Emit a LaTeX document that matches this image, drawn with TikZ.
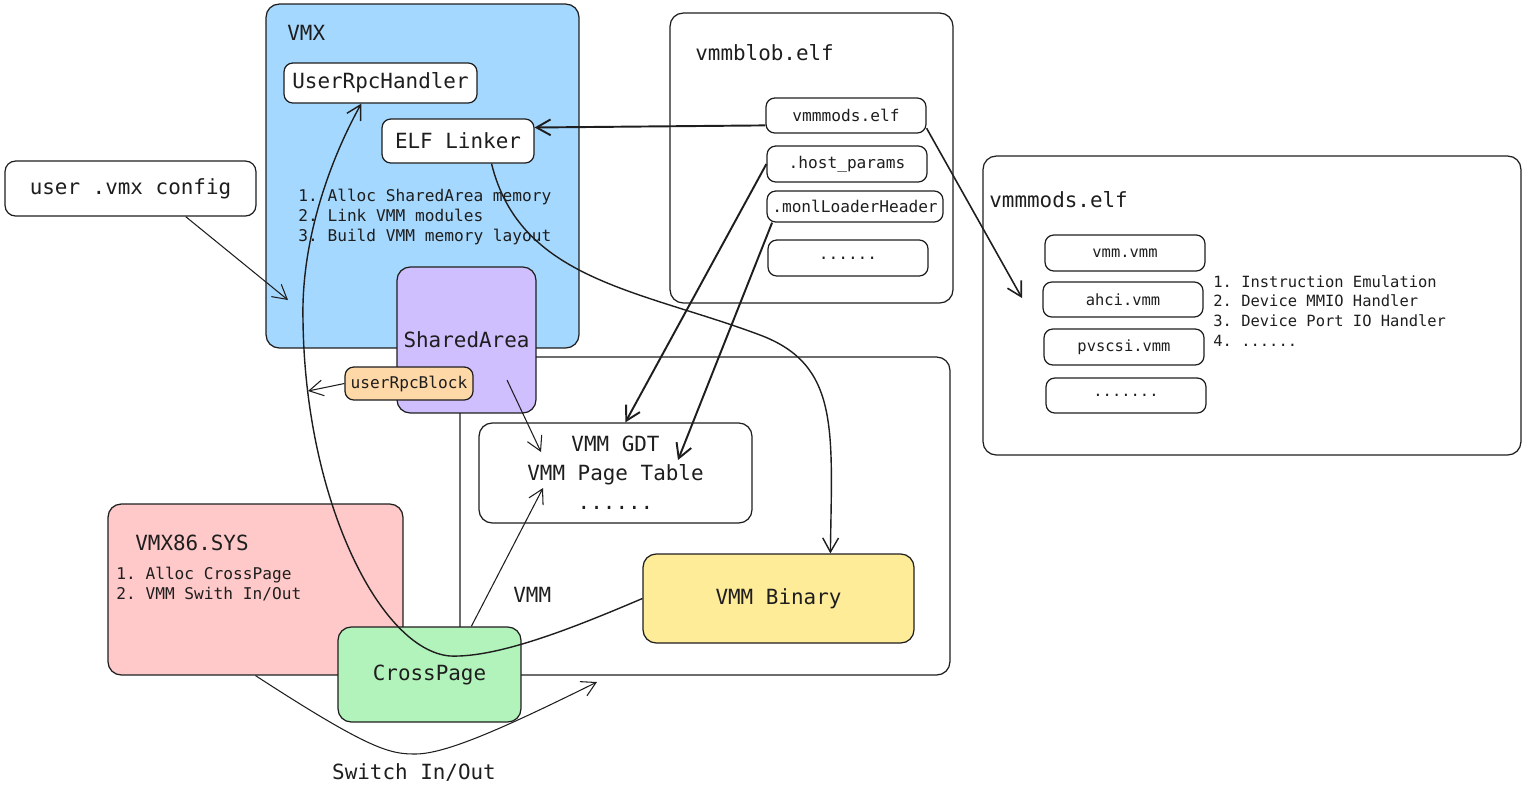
\documentclass[tikz,border=0pt]{standalone}
\usepackage{fontspec}
\usepackage{tikz}
\usetikzlibrary{arrows.meta}
\newfontfamily\sketchfont{DejaVu Sans Mono}
\definecolor{ink}{HTML}{1E1E1E}
\definecolor{vmxblue}{HTML}{A5D8FF}
\definecolor{sharedviolet}{HTML}{D0BFFF}
\definecolor{rpcorange}{HTML}{FFD8A8}
\definecolor{sysred}{HTML}{FFC9C9}
\definecolor{crossgreen}{HTML}{B2F2BB}
\definecolor{binyellow}{HTML}{FFEC99}
\tikzset{
    box/.style={draw=ink, line width=0.7pt, rounded corners=5pt, inner sep=0pt, text=ink},
    bigbox/.style={box, rounded corners=7.5pt},
    bigtext/.style={font=\sketchfont\frenchspacing\fontsize{11.9}{14}\selectfont, text=ink},
    smalltext/.style={font=\sketchfont\frenchspacing\fontsize{9.2}{11.3}\selectfont, text=ink},
    tinytext/.style={font=\sketchfont\frenchspacing\fontsize{8.8}{11.3}\selectfont, text=ink},
    title/.style={anchor=west, inner sep=0pt},
    arr/.style={draw=ink, line width=0.6pt, -{Straight Barb[length=8pt,width=9pt]}},
    thickarr/.style={arr, line width=1.1pt}
}
\begin{document}
\begin{tikzpicture}[x=0.02cm, y=-0.02cm]
  \useasboundingbox (0,0) rectangle (1528,789);
  % containers
  \node [bigbox, minimum width=9.8cm, minimum height=6.36cm] (vmm) at (705,516) {};
  \node [bigbox, fill=vmxblue, minimum width=6.26cm, minimum height=6.88cm] (vmx) at (422.5,176) {};
  \node [bigbox, fill=sysred, minimum width=5.9cm, minimum height=3.42cm] (vmx86) at (255.5,589.5) {};
  \node [bigbox, minimum width=5.66cm, minimum height=5.8cm] (blob) at (811.5,158) {};
  \node [bigbox, minimum width=10.76cm, minimum height=5.98cm] (mods) at (1252,305.5) {};
  \node [bigtext, title] (vmxtitle) at (287,33) {VMX};
  \node [bigtext, title] (blobtitle) at (695,53) {vmmblob.elf};
  \node [bigtext, title] (modstitle) at (989,200) {vmmmods.elf};
  \node [bigtext, title] (vmx86title) at (135,543) {VMX86.SYS};
  \node [bigtext, title] (vmmtitle) at (513,595) {VMM};

  % VMX
  \node [box, bigtext, fill=white, minimum width=3.86cm, minimum height=0.8cm] (handler) at (380.5,83) {UserRpcHandler};
  \node [box, bigtext, fill=white, minimum width=3.04cm, minimum height=0.88cm] (linker) at (458,141) {ELF Linker};
  \node [smalltext, align=left, title] (vmxsteps) at (298,217)
    {1. Alloc SharedArea memory\\2. Link VMM modules\\3. Build VMM memory layout};
  \node [bigbox, bigtext, fill=sharedviolet, minimum width=2.78cm, minimum height=2.92cm] (shared) at (466.5,340) {SharedArea};
  \node [box, smalltext, fill=rpcorange, minimum width=2.56cm, minimum height=0.66cm] (rpcblock) at (409,383.5) {userRpcBlock};
  \node [box, bigtext, fill=white, minimum width=5.02cm, minimum height=1.1cm, rounded corners=6pt] (config) at (130.5,188.5) {user .vmx config};

  % vmmblob.elf
  \node [box, smalltext, minimum width=3.2cm, minimum height=0.7cm] (modsfile) at (846,115.5) {vmmmods.elf};
  \node [box, smalltext, minimum width=3.2cm, minimum height=0.72cm] (hostparams) at (847,164) {.host\_params};
  \node [box, smalltext, minimum width=3.52cm, minimum height=0.62cm] (loaderhdr) at (855,206.5) {.monlLoaderHeader};
  \node [box, smalltext, minimum width=3.2cm, minimum height=0.72cm] (blobmore) at (848,258) {......};

  % vmmmods.elf
  \node [box, tinytext, minimum width=3.2cm, minimum height=0.72cm] (vmmvmm) at (1125,253) {vmm.vmm};
  \node [box, tinytext, minimum width=3.2cm, minimum height=0.7cm] (ahci) at (1123,299.5) {ahci.vmm};
  \node [box, tinytext, minimum width=3.2cm, minimum height=0.72cm] (pvscsi) at (1124,347) {pvscsi.vmm};
  \node [box, tinytext, minimum width=3.2cm, minimum height=0.7cm] (modsmore) at (1126,395.5) {.......};
  \node [tinytext, align=left, title] (modslist) at (1213,311)
    {1. Instruction Emulation\\2. Device MMIO Handler\\3. Device Port IO Handler\\4. ......};

  % VMM
  \node [bigbox, align=center, fill=white, minimum width=5.46cm, minimum height=2cm,
         font=\sketchfont\frenchspacing\fontsize{11.9}{16.4}\selectfont] (tables) at (615.5,473)
    {VMM GDT\\VMM Page Table\\......};
  \node [bigbox, bigtext, fill=binyellow, minimum width=5.42cm, minimum height=1.78cm] (binary) at (778.5,598.5) {VMM Binary};

  % VMX86.SYS
  \node [smalltext, align=left, title] (vmx86steps) at (116,584)
    {1. Alloc CrossPage\\2. VMM Swith In/Out};
  \node [bigbox, bigtext, fill=crossgreen, minimum width=3.66cm, minimum height=1.9cm] (crosspage) at (429.5,674.5) {CrossPage};
  \node [bigtext] (switchlabel) at (414,773) {Switch In/Out};

  % loose ends
  \coordinate (cfgin) at (288,300);
  \coordinate (modsin) at (1022,298);
  \coordinate (pagetable) at (678,460);
  \coordinate (sharedout) at (507,380);
  \coordinate (gdtin) at (541,452);
  \coordinate (crossin) at (543,488);
  \coordinate (rpcin) at (308,391);
  \coordinate (switchin) at (597,682);

  % connectors
  \draw [arr] (config.-27) -- (cfgin);
  \draw [thickarr] (modsfile.187) -- (linker.10);
  \draw [arr, line width=0.9pt] (modsfile.-9) -- (modsin);
  \draw [thickarr] (hostparams.west) -- (tables.79);
  \draw [thickarr] (loaderhdr.-169) -- (pagetable);
  \draw [arr, line width=0.8pt] (linker.-34) .. controls (520,280) and (640,290) .. (760,335)
    .. controls (840,365) and (832,430) .. (binary.41);
  \draw [arr] (sharedout) -- (gdtin);
  \draw [arr] (rpcblock.west) -- (rpcin);
  \draw [arr] (crosspage.49) -- (crossin);
  \draw [arr, line width=0.8pt] (binary.west) .. controls (580,625) and (500,658) .. (450,656)
    .. controls (380,650) and (305,500) .. (303,320)
    .. controls (301,240) and (330,160) .. (handler.-133);
  \draw [arr] (vmx86.south) .. controls (370,750) and (390,754) .. (415,754)
    .. controls (445,754) and (500,730) .. (switchin);
\end{tikzpicture}
\end{document}
